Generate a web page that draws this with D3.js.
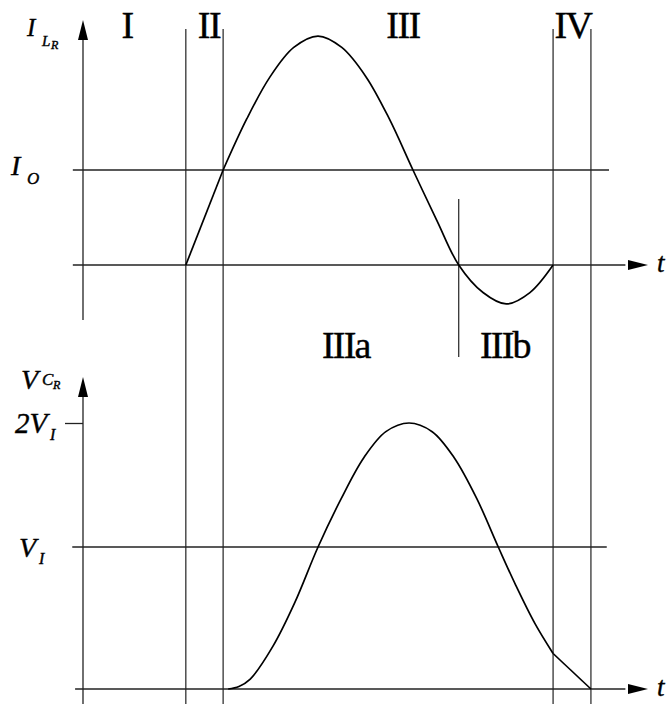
<!DOCTYPE html>
<html><head><meta charset="utf-8">
<script src="https://cdn.jsdelivr.net/npm/d3@7"></script>
<style>
body{margin:0;background:#fff}
svg{display:block}
text{font-family:"Liberation Serif","DejaVu Serif",serif;fill:#000;stroke:#000;stroke-width:0.4}
</style>
</head><body>
<svg id="c" width="669" height="704"></svg>
<script>
// ---- data ----
const regionLabels = ["I", "II", "III", "IV"];
const subRegionLabels = ["IIIa", "IIIb"];
const boundaries = [18.2, 24.8, 83.2, 89.9];   // t of interval boundaries
const subBoundary = 66.5;                       // IIIa / IIIb boundary
const currentTickLabels = ["I", "O"];           // I_O
const voltageTickLabels = ["V", "I", "2V", "I"];// V_I, 2V_I

const rampT = [18.2, 24.8];
const rampI = [0, 1];
const iLrT = [24.8, 29.0, 33.1, 37.3, 41.6, 45.8, 50.1, 54.2, 58.4, 62.7, 66.5, 70.8, 74.9, 79.1, 83.2];
const iLrV = [1, 1.54, 1.98, 2.29, 2.41, 2.29, 1.98, 1.54, 1.0, 0.46, 0, -0.29, -0.41, -0.29, 0];

const vCrT = [25.7, 27.6, 29.6, 33.6, 37.5, 41.6, 45.7, 49.7, 53.6, 57.7, 61.8, 65.7, 69.7, 73.5, 76.6, 80.0, 83.2];
const vCrV = [0, 0.018, 0.07, 0.30, 0.61, 1.0, 1.39, 1.72, 1.93, 2.0, 1.93, 1.72, 1.39, 1.0, 0.73, 0.46, 0.25];
const vCrTailT = [83.2, 89.9];
const vCrTailV = [0.25, 0];

// ---- scales ----
const svg = d3.select("#c");
const x = d3.scaleLinear().domain([0, 100]).range([83, 648]);
const yI = d3.scaleLinear().domain([0, 1]).range([265, 170]);
const yV = d3.scaleLinear().domain([0, 1, 2]).range([689, 547, 423]);

const zip = (a, b) => a.map((v, i) => [v, b[i]]);
const thin = "#222";

// vertical interval lines
svg.append("g").selectAll("line").data(boundaries).join("line")
  .attr("x1", d => x(d)).attr("x2", d => x(d))
  .attr("y1", 29).attr("y2", 704)
  .attr("stroke", thin).attr("stroke-width", 1.2);
svg.append("line")
  .attr("x1", x(subBoundary)).attr("x2", x(subBoundary))
  .attr("y1", 199).attr("y2", 357)
  .attr("stroke", thin).attr("stroke-width", 1.2);

// horizontal reference lines
svg.append("line").attr("x1", x(-1.8)).attr("x2", x(93.1))
  .attr("y1", yI(1)).attr("y2", yI(1)).attr("stroke", thin).attr("stroke-width", 1.3);
svg.append("line").attr("x1", x(-1.8)).attr("x2", x(96))
  .attr("y1", yI(0)).attr("y2", yI(0)).attr("stroke", thin).attr("stroke-width", 1.3);
svg.append("line").attr("x1", x(-1.9)).attr("x2", x(92.7))
  .attr("y1", yV(1)).attr("y2", yV(1)).attr("stroke", thin).attr("stroke-width", 1.3);
svg.append("line").attr("x1", x(-1.4)).attr("x2", x(96))
  .attr("y1", yV(0)).attr("y2", yV(0)).attr("stroke", thin).attr("stroke-width", 1.3);

// vertical axes
svg.append("line").attr("x1", x(0)).attr("x2", x(0))
  .attr("y1", 36).attr("y2", 320).attr("stroke", thin).attr("stroke-width", 1.3);
svg.append("line").attr("x1", x(0)).attr("x2", x(0))
  .attr("y1", 392).attr("y2", 704).attr("stroke", thin).attr("stroke-width", 1.3);

// 2V_I tick through d3 axis
const ax = svg.append("g").attr("transform", `translate(${x(0)},0)`)
  .call(d3.axisLeft(yV).tickValues([2]).tickSize(18).tickSizeOuter(0).tickFormat(""));
ax.select(".domain").remove();
ax.selectAll(".tick line").attr("stroke", thin).attr("stroke-width", 1.3);

// arrowheads
function arrowUp(cx, tip) {
  svg.append("path").attr("d", `M${cx},${tip} L${cx - 5},${tip + 20} L${cx + 5},${tip + 20} Z`).attr("fill", "#000");
}
function arrowRight(tipX, cy) {
  svg.append("path").attr("d", `M${tipX},${cy} L${tipX - 20},${cy - 5} L${tipX - 20},${cy + 5} Z`).attr("fill", "#000");
}
arrowUp(x(0), 20);
arrowUp(x(0), 377);
arrowRight(x(100), yI(0));
arrowRight(x(100), yV(0));

// curves
const curveGen = (ys) => d3.line().x(d => x(d[0])).y(d => ys(d[1])).curve(d3.curveCatmullRom);
const lineGen = (ys) => d3.line().x(d => x(d[0])).y(d => ys(d[1]));
const cs = {fill: "none", stroke: "#000", "stroke-width": 1.7};
function styled(p) { Object.entries(cs).forEach(([k, v]) => p.attr(k, v)); return p; }

styled(svg.append("path").attr("d", lineGen(yI)(zip(rampT, rampI))));
styled(svg.append("path").attr("d", curveGen(yI)(zip(iLrT, iLrV))));
styled(svg.append("path").attr("d", curveGen(yV)(zip(vCrT, vCrV))));
styled(svg.append("path").attr("d", lineGen(yV)(zip(vCrTailT, vCrTailV))));

// region labels
const regionX = [127, 209, 403, 573];
svg.append("g").selectAll("text").data(regionLabels).join("text")
  .attr("x", (d, i) => regionX[i]).attr("y", 38)
  .attr("text-anchor", "middle").attr("font-size", 38)
  .attr("letter-spacing", -1.5).attr("stroke-width", 0.8)
  .text(d => d);
const subX = [322, 480];
svg.append("g").selectAll("text").data(subRegionLabels).join("text")
  .attr("x", (d, i) => subX[i]).attr("y", 358)
  .attr("font-size", 38).attr("letter-spacing", -1.8).attr("stroke-width", 0.8)
  .text(d => d);

// axis labels
function lbl(tx, ty, s, size, italic) {
  svg.append("text").attr("x", tx).attr("y", ty).attr("font-size", size)
    .attr("font-style", italic ? "italic" : "normal").text(s);
}
// I_{L_R}
lbl(27, 36, "I", 25, true);
lbl(42, 46, "L", 15, true);
lbl(51, 49, "R", 12, true);
// I_O
lbl(11, 175, currentTickLabels[0], 28, true);
lbl(27, 184, currentTickLabels[1], 17, true);
// V_{C_R}
lbl(21, 389, "V", 28, true);
lbl(42, 385, "C", 17, true);
lbl(53, 389, "R", 12, true);
// 2V_I
lbl(15, 433, voltageTickLabels[2], 29, true);
lbl(50, 440, voltageTickLabels[3], 16, true);
// V_I
lbl(19, 557, voltageTickLabels[0], 28, true);
lbl(39, 564, voltageTickLabels[1], 16, true);
// t
lbl(657, 272, "t", 27, true);
lbl(657, 696, "t", 27, true);
</script>
</body></html>
